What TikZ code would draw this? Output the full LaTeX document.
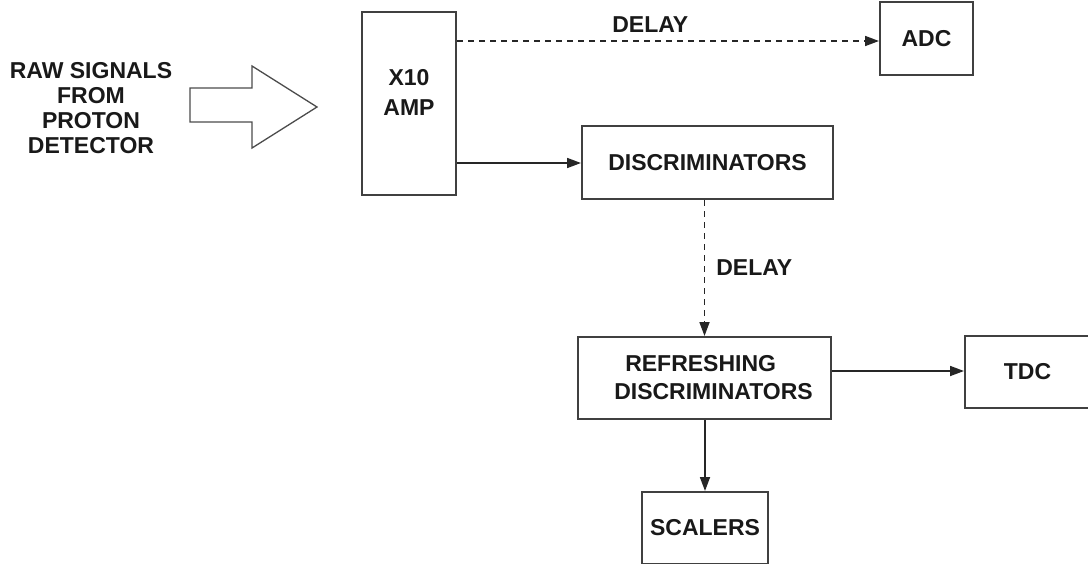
\documentclass[tikz,border=0pt]{standalone}
\usepackage{fontspec}
\setmainfont{Liberation Sans}
\usetikzlibrary{arrows.meta,calc}
\tikzset{
  blk/.style={draw=black!75, line width=2pt, fill=white, inner sep=0pt, font=\bfseries\fontsize{23}{28}\selectfont, text=black!90, align=center},
  lbl/.style={font=\bfseries\fontsize{23}{28}\selectfont, text=black!90, align=center, inner sep=0pt},
  arr/.style={line width=1.7pt, draw=black!85, -{Triangle[length=14pt,width=10pt]}},
  darr/.style={arr, dash pattern=on 6pt off 5pt},
}
\begin{document}
\begin{tikzpicture}[x=1pt,y=-1pt]
\clip (0,0) rectangle (1088,563);
\fill[white] (0,0) rectangle (1088,563);
% big hollow arrow
\draw[draw=black!70, line width=1.3pt, line join=miter] (190,88) -- (252,88) -- (252,66) -- (317,107) -- (252,148) -- (252,122) -- (190,122) -- cycle;
\node[lbl, font=\bfseries\fontsize{23}{25}\selectfont] (raw) at (91,108) {RAW SIGNALS\\FROM\\PROTON\\DETECTOR};
% boxes
\node[blk, minimum width=94pt, minimum height=183pt] (amp) at (409,103.5) {};
\node[lbl, font=\bfseries\fontsize{23}{30}\selectfont] (amptext) at (409,92) {X10\\AMP};
\node[blk, minimum width=93pt, minimum height=73pt] (adc) at (926.5,38.5) {ADC};
\node[blk, minimum width=251pt, minimum height=73pt] (disc) at (707.5,162.5) {DISCRIMINATORS};
\node[blk, minimum width=253pt, minimum height=82pt, align=left] (ref) at (704.5,378) {\hspace*{29pt}REFRESHING\\\hspace*{18pt}DISCRIMINATORS};
\node[blk, minimum width=125pt, minimum height=72pt] (tdc) at (1027.5,372) {TDC};
\node[blk, minimum width=126pt, minimum height=72pt] (scal) at (705,528) {SCALERS};
% connector start points
\coordinate (a1) at (amp.east |- 0,41);
\coordinate (a2) at (amp.east |- 0,163);
\coordinate (r1) at (ref.east |- 0,371);
% connectors
\draw[darr] (a1) -- (a1 -| adc.west) node[lbl, pos=0.458, above=8pt] (d1) {DELAY};
\draw[arr] (a2) -- (a2 -| disc.west);
\draw[darr] (disc.south -| ref.north) -- (ref.north) node[lbl, pos=0.5, right=11pt] (d2) {DELAY};
\draw[arr] (r1) -- (r1 -| tdc.west);
\draw[arr] (ref.south -| scal.north) -- (scal.north);
\end{tikzpicture}
\end{document}
